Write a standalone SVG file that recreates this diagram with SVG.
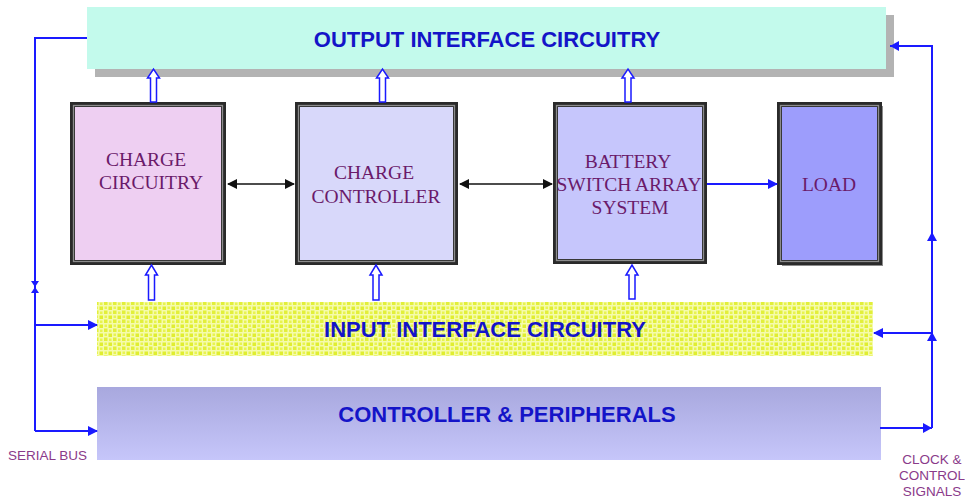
<svg xmlns="http://www.w3.org/2000/svg" width="965" height="498" viewBox="0 0 965 498">
<defs>
<pattern id="dots" width="9" height="9" patternUnits="userSpaceOnUse">
<rect width="9" height="9" fill="#f5fbac"/>
<rect x="0.5" y="0.5" width="3.5" height="3.5" fill="#e0ee30"/>
<rect x="5" y="4.5" width="3.5" height="3.5" fill="#e2ef3a"/>
<rect x="5.5" y="0.5" width="2.5" height="2.5" fill="#e8f350"/>
<rect x="1" y="5.5" width="2.5" height="2.5" fill="#e8f350"/>
</pattern>
<linearGradient id="ctl" x1="0" y1="0" x2="0" y2="1">
<stop offset="0" stop-color="#a8a8de"/>
<stop offset="1" stop-color="#c6c6fa"/>
</linearGradient>
<marker id="ab" viewBox="0 0 10 10" refX="9" refY="5" markerWidth="10" markerHeight="10" markerUnits="userSpaceOnUse" orient="auto-start-reverse">
<path d="M0,0 L10,5 L0,10 z" fill="#111"/>
</marker>
<marker id="ablue" viewBox="0 0 10 10" refX="9" refY="5" markerWidth="10" markerHeight="10" markerUnits="userSpaceOnUse" orient="auto-start-reverse">
<path d="M0,0 L10,5 L0,10 z" fill="#1a1aff"/>
</marker>
</defs>
<style>
.big{font-family:"Liberation Sans",Arial,sans-serif;font-weight:bold;font-size:22px;fill:#1414c8;text-anchor:middle}
.blk{font-family:"Liberation Serif","Times New Roman",serif;font-size:19.5px;fill:#6a1a6a;text-anchor:middle}
.lbl{font-family:"Liberation Sans",Arial,sans-serif;font-size:13.5px;fill:#8a3a8a}
.frame{stroke:#2a2a2a;stroke-width:5}
.inner{fill:none;stroke:#8c8c8c;stroke-width:1.3}
.bus{fill:none;stroke:#1a1aff;stroke-width:2}
.hol{fill:#fff;stroke:#1a1aff;stroke-width:1.5}
</style>

<g id="output-interface">
<rect x="95" y="15" width="799" height="62" fill="#b3b3b3"/>
<rect x="87" y="7" width="799" height="62" fill="#c3faec"/>
<text class="big" x="487" y="47">OUTPUT INTERFACE CIRCUITRY</text>
</g>

<g id="charge-circuitry">
<rect class="frame" x="72.5" y="104.5" width="151" height="158" fill="#eecff2"/>
<rect class="inner" x="73.5" y="105.5" width="149" height="156"/>
<text class="blk" x="146" y="166">CHARGE</text>
<text class="blk" x="151" y="189">CIRCUITRY</text>
</g>

<g id="charge-controller">
<rect class="frame" x="297.5" y="104.5" width="158" height="158" fill="#d8d8fa"/>
<rect class="inner" x="298.5" y="105.5" width="156" height="156"/>
<text class="blk" x="374" y="179">CHARGE</text>
<text class="blk" x="376" y="203">CONTROLLER</text>
</g>

<g id="battery-switch-array">
<rect class="frame" x="555.5" y="104.5" width="149" height="157" fill="#c6c6fc"/>
<rect class="inner" x="556.5" y="105.5" width="147" height="155"/>
<text class="blk" x="628" y="168">BATTERY</text>
<text class="blk" x="629" y="191">SWITCH ARRAY</text>
<text class="blk" x="630" y="214">SYSTEM</text>
</g>

<g id="load">
<rect x="782" y="106" width="101" height="160" fill="#8c8c8c"/>
<rect class="frame" x="779.5" y="104.5" width="100" height="158" fill="#9d9dfc"/>
<rect class="inner" x="780.5" y="105.5" width="98" height="156"/>
<text class="blk" x="829" y="191">LOAD</text>
</g>

<g id="input-interface">
<rect x="97" y="302" width="776" height="54" fill="url(#dots)"/>
<text class="big" x="485" y="337">INPUT INTERFACE CIRCUITRY</text>
</g>

<g id="controller-peripherals">
<rect x="97" y="387" width="784" height="73" fill="url(#ctl)"/>
<text class="big" x="507" y="422">CONTROLLER &amp; PERIPHERALS</text>
</g>

<g id="labels">
<text class="lbl" x="8" y="460">SERIAL BUS</text>
<text class="lbl" x="932" y="464" text-anchor="middle">CLOCK &amp;</text>
<text class="lbl" x="932" y="480" text-anchor="middle">CONTROL</text>
<text class="lbl" x="932" y="496" text-anchor="middle">SIGNALS</text>
</g>

<g id="connectors">
<line x1="228" y1="184" x2="294" y2="184" stroke="#111" stroke-width="1.5" marker-start="url(#ab)" marker-end="url(#ab)"/>
<line x1="460" y1="184" x2="552" y2="184" stroke="#111" stroke-width="1.5" marker-start="url(#ab)" marker-end="url(#ab)"/>
<line x1="707" y1="184" x2="777" y2="184" stroke="#1a1aff" stroke-width="2" marker-end="url(#ablue)"/>

<path class="hol" d="M150.5,102 V78 H147.5 L153.5,69 L159.5,78 H156.5 V102 Z"/>
<path class="hol" d="M379.5,102 V78 H376.5 L382.5,69 L388.5,78 H385.5 V102 Z"/>
<path class="hol" d="M625,102 V78 H622 L628,69 L634,78 H631 V102 Z"/>
<path class="hol" d="M148.5,300 V275 H145.5 L151.5,265 L157.5,275 H154.5 V300 Z"/>
<path class="hol" d="M373,300 V275 H370 L376,265 L382,275 H379 V300 Z"/>
<path class="hol" d="M629,299 V275 H626 L632,265 L638,275 H635 V299 Z"/>

<path class="bus" d="M87,38 H35 V431"/>
<path d="M31,281 L39,281 L35,287 Z M31,293 L39,293 L35,287 Z" fill="#1a1aff"/>
<line class="bus" x1="35" y1="325" x2="97" y2="325" marker-end="url(#ablue)"/>
<line class="bus" x1="35" y1="431" x2="97" y2="431" marker-end="url(#ablue)"/>

<path class="bus" d="M880,428 H932"/>
<path d="M923,423 L932,428 L923,433 Z" fill="#1a1aff"/>
<path class="bus" d="M932,428 V46 H890"/>
<path d="M890,46 L899,41 L899,51 Z" fill="#1a1aff"/>
<line class="bus" x1="932" y1="333" x2="874" y2="333" marker-end="url(#ablue)"/>
<path d="M932,332 L927,341 L937,341 Z" fill="#1a1aff"/>
<path d="M932,232 L927,241 L937,241 Z" fill="#1a1aff"/>
</g>
</svg>
